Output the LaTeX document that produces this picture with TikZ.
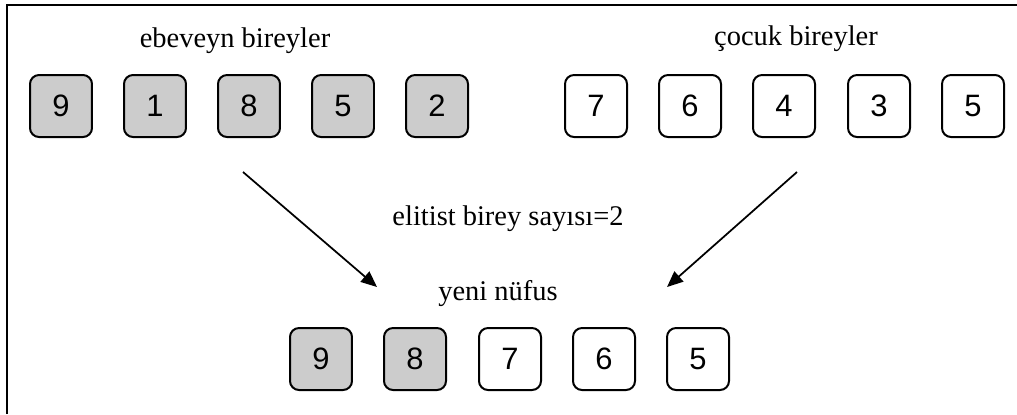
\documentclass[tikz,border=0pt]{standalone}
\usepackage{fontspec}
\setmainfont{Liberation Serif}
\newfontfamily\digitfont{Liberation Sans}
\usetikzlibrary{arrows.meta}
\definecolor{cellgray}{HTML}{CCCCCC}
\tikzset{
  cell/.style={draw=black, line width=0.04cm, rounded corners=0.18cm,
    minimum width=1.24cm, minimum height=1.24cm, inner sep=0pt,
    font=\digitfont\fontsize{17.6pt}{20pt}\selectfont},
  elite/.style={cell, fill=cellgray},
  plain/.style={cell, fill=white},
  caption/.style={anchor=base, inner sep=0pt,
    font=\fontsize{16.2pt}{18pt}\selectfont},
  flow/.style={line width=0.035cm, -{Triangle[length=0.32cm,width=0.27cm]}}
}
\begin{document}
\begin{tikzpicture}[x=0.02cm, y=-0.02cm]
  \useasboundingbox (0,0) rectangle (1017,414);
  % open frame: top and left edges only
  \draw[line width=0.05cm] (7,414) -- (7,5) -- (1020,5);

  % captions
  \node[caption] (lp) at (235,47) {ebeveyn bireyler};
  \node[caption] (lc) at (796,45) {çocuk bireyler};
  \node[caption] (le) at (508,225) {elitist birey sayısı=2};
  \node[caption] (ln) at (498,300) {yeni nüfus};

  % parent individuals
  \node[elite] (p1) at (61,106) {9};
  \node[elite] (p2) at (155,106) {1};
  \node[elite] (p3) at (249,106) {8};
  \node[elite] (p4) at (343,106) {5};
  \node[elite] (p5) at (437,106) {2};

  % offspring individuals
  \node[plain] (c1) at (596,106) {7};
  \node[plain] (c2) at (690,106) {6};
  \node[plain] (c3) at (784,106) {4};
  \node[plain] (c4) at (879,106) {3};
  \node[plain] (c5) at (973,106) {5};

  % new population
  \node[elite] (n1) at (321,359) {9};
  \node[elite] (n2) at (415,359) {8};
  \node[plain] (n3) at (510,359) {7};
  \node[plain] (n4) at (604,359) {6};
  \node[plain] (n5) at (698,359) {5};

  % arrow ends
  \coordinate (fromP) at (243,172);
  \coordinate (toP) at (377,287);
  \coordinate (fromC) at (797,172);
  \coordinate (toC) at (667,287);
  \draw[flow] (fromP) -- (toP);
  \draw[flow] (fromC) -- (toC);
\end{tikzpicture}
\end{document}
